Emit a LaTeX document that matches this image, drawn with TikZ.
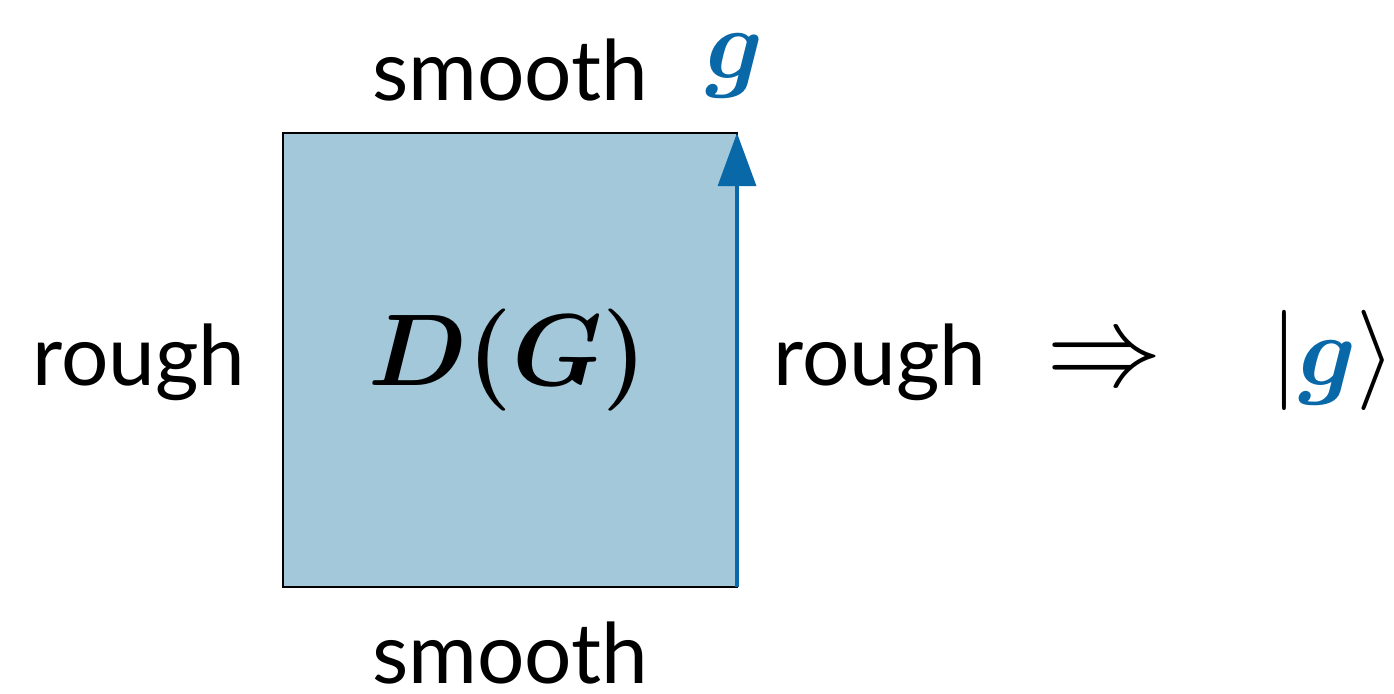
\RequirePackage{fix-cm}
\documentclass[tikz,border=0pt]{standalone}
\usepackage{fontspec}
\usepackage{bm}
\setmainfont{Lato}
\usetikzlibrary{arrows.meta}
\definecolor{boxfill}{RGB}{162,200,218}
\definecolor{gblue}{RGB}{8,104,168}
\tikzset{
  lbl/.style={anchor=base, inner sep=0pt, font=\fontsize{23.8}{28}\selectfont},
  mth/.style={anchor=base, inner sep=0pt, font=\fontsize{28.5}{34}\selectfont},
}
\begin{document}
\begin{tikzpicture}[x=0.01cm,y=-0.01cm]
\useasboundingbox (0,0) rectangle (1394,694);
\draw[line width=0.6pt, fill=boxfill] (283,133) rectangle (737,587);
\coordinate (bot) at (737,587);
\coordinate (top) at (737,133);
\draw[gblue, line width=0.9pt, -{Triangle[length=0.53cm,width=0.38cm]}] (bot) -- (top);
\node[lbl] (smt) at (510,100) {smooth};
\node[lbl] (smb) at (510,683) {smooth};
\node[lbl] (rl) at (139,385) {rough};
\node[lbl] (rr) at (880,385) {rough};
\node[mth] (g) at (735,78) {$\color{gblue}\bm{g}$};
\node[mth, font=\fontsize{29}{34}\selectfont] (dg) at (508,385) {$\bm{D(G)}$};
\node[mth, font=\fontsize{33}{38}\selectfont] (imp) at (1105,385) {$\Rightarrow$};
\node[mth] (ket) at (1333,385) {$|\color{gblue}\bm{g}\color{black}\rangle$};
\end{tikzpicture}
\end{document}
